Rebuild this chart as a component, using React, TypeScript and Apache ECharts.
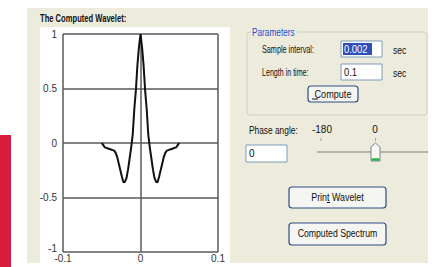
import React, { useEffect, useRef } from 'react';
import * as echarts from 'echarts';

// Wavelet samples (sample interval 0.002 s, length 0.1 s)
const timeSec = [
  -0.05, -0.048, -0.046, -0.044, -0.042, -0.04, -0.038, -0.036, -0.034, -0.032,
  -0.03, -0.028, -0.026, -0.024, -0.022, -0.02, -0.018, -0.016, -0.014, -0.012,
  -0.01, -0.008, -0.006, -0.004, -0.002, 0,
  0.002, 0.004, 0.006, 0.008, 0.01, 0.012, 0.014, 0.016, 0.018, 0.02,
  0.022, 0.024, 0.026, 0.028, 0.03, 0.032, 0.034, 0.036, 0.038, 0.04,
  0.042, 0.044, 0.046, 0.048, 0.05,
];
const amplitude = [
  0, -0.02, -0.04, -0.045, -0.05, -0.055, -0.06, -0.065, -0.07, -0.09,
  -0.13, -0.19, -0.25, -0.31, -0.36, -0.355, -0.32, -0.24, -0.14, -0.04,
  0.08, 0.31, 0.48, 0.71, 0.88, 1.0,
  0.88, 0.71, 0.48, 0.31, 0.08, -0.04, -0.14, -0.24, -0.32, -0.355,
  -0.36, -0.31, -0.25, -0.19, -0.13, -0.09, -0.07, -0.065, -0.06, -0.055,
  -0.05, -0.045, -0.04, -0.02, 0,
];

const chartTitle = 'The Computed Wavelet:';
const paramLabels = ['Sample interval:', 'Length in time:'];
const paramValues = ['0.002', '0.1'];
const unitLabel = 'sec';
const phaseLabel = 'Phase angle:';
const phaseTicks = ['-180', '0'];
const phaseValue = '0';
const buttonLabels = ['Compute', 'Print Wavelet', 'Computed Spectrum'];

const FONT = '"Liberation Sans", Arial, sans-serif';

function txt(text: string, x: number, y: number, sx: number, extra: any = {}) {
  const align = extra.align || 'left';
  return {
    type: 'text',
    x,
    y,
    scaleX: sx,
    z: 20,
    silent: true,
    style: {
      text,
      x: 0,
      y: 0,
      fill: extra.fill || '#111',
      font: `${extra.weight || 'normal'} ${extra.size || 10}px ${FONT}`,
      textAlign: align,
      align,
      textVerticalAlign: 'middle',
      verticalAlign: 'middle',
    },
  };
}

function button(x: number, y: number, w: number, h: number, label: string, sx: number, ul?: [number, number]) {
  const els: any[] = [
    {
      type: 'rect',
      z: 15,
      silent: true,
      shape: { x, y, width: w, height: h, r: 3 },
      style: { fill: '#F5F5F1', stroke: '#2F4C86', lineWidth: 1.2 },
    },
    txt(label, x + w / 2, y + h / 2, sx, { align: 'center' }),
  ];
  if (ul) {
    els.push({
      type: 'line',
      z: 20,
      silent: true,
      shape: { x1: ul[0], y1: y + h / 2 + 5, x2: ul[1], y2: y + h / 2 + 5 },
      style: { stroke: '#111', lineWidth: 1 },
    });
  }
  return els;
}

function textbox(x: number, y: number, w: number, h: number) {
  return {
    type: 'rect',
    z: 15,
    silent: true,
    shape: { x, y, width: w, height: h },
    style: { fill: '#FFFFFF', stroke: '#7F9DB9', lineWidth: 1 },
  };
}

export default function App() {
  const ref = useRef<HTMLDivElement>(null);

  useEffect(() => {
    document.body.style.margin = '0';
    if (!ref.current) return;
    const chart = echarts.init(ref.current, undefined, { renderer: 'svg' });

    const graphic: any[] = [
      // red side strip
      { type: 'rect', z: 0, silent: true, shape: { x: 0, y: 135, width: 11, height: 132 }, style: { fill: '#D71B3B' } },
      // dialog beige background
      { type: 'rect', z: 0, silent: true, shape: { x: 27, y: 8, width: 401, height: 255 }, style: { fill: '#ECEBDC' } },
      // white plot panel
      { type: 'rect', z: 1, silent: true, shape: { x: 40, y: 27, width: 190, height: 236 }, style: { fill: '#FFFFFF' } },
      txt(chartTitle, 40, 19, 0.76, { weight: 'bold', size: 10 }),
      // Parameters group box
      {
        type: 'rect', z: 10, silent: true,
        shape: { x: 247, y: 32, width: 180, height: 83, r: 3 },
        style: { fill: 'none', stroke: '#CFCFBF', lineWidth: 1 },
      },
      { type: 'rect', z: 11, silent: true, shape: { x: 251, y: 27, width: 46, height: 9 }, style: { fill: '#ECEBDC' } },
      txt('Parameters', 252, 32, 0.75, { fill: '#1F4FCF', size: 11 }),
      txt(paramLabels[0], 262, 49, 0.66, { size: 11 }),
      txt(paramLabels[1], 262, 72, 0.645, { size: 11 }),
      textbox(341, 41, 41, 16),
      { type: 'rect', z: 16, silent: true, shape: { x: 343, y: 43, width: 29, height: 12 }, style: { fill: '#2F4FB8' } },
      txt(paramValues[0], 344, 49.5, 0.9, { fill: '#FFFFFF', size: 10.5 }),
      textbox(341, 64, 41, 16),
      txt(paramValues[1], 344, 72, 0.9, { size: 10.5 }),
      txt(unitLabel, 393, 50, 0.78, { size: 11 }),
      txt(unitLabel, 393, 73, 0.78, { size: 11 }),
      ...button(308, 86, 50, 16, buttonLabels[0], 0.91, [312, 318]),
      // Phase angle
      txt(phaseLabel, 249, 130, 0.76, { size: 11 }),
      txt(phaseTicks[0], 312, 129, 0.95, { size: 10.5 }),
      txt(phaseTicks[1], 375, 129, 0.95, { align: 'center', size: 10.5 }),
      textbox(246, 145, 41, 17),
      txt(phaseValue, 249, 153.5, 0.95, { size: 10.5 }),
      // slider track
      { type: 'line', z: 12, silent: true, shape: { x1: 317, y1: 152, x2: 428, y2: 152 }, style: { stroke: '#B4B4AA', lineWidth: 2 } },
      { type: 'line', z: 12, silent: true, shape: { x1: 321, y1: 138, x2: 321, y2: 141 }, style: { stroke: '#A0A0A0', lineWidth: 1 } },
      { type: 'line', z: 12, silent: true, shape: { x1: 375.5, y1: 138, x2: 375.5, y2: 141 }, style: { stroke: '#A0A0A0', lineWidth: 1 } },
      {
        type: 'polygon', z: 13, silent: true,
        shape: { points: [[371, 147], [375.5, 143], [380, 147], [380, 161], [371, 161]] },
        style: { fill: '#F7F7F3', stroke: '#7A8799', lineWidth: 1 },
      },
      { type: 'line', z: 14, silent: true, shape: { x1: 371.5, y1: 159.5, x2: 379.5, y2: 159.5 }, style: { stroke: '#2FAE48', lineWidth: 2.5 } },
      ...button(289, 187, 97, 21, buttonLabels[1], 0.89, [327, 330]),
      ...button(289, 223, 97, 22, buttonLabels[2], 0.87),
    ];

    const gridLine = { show: true, lineStyle: { color: '#5A5A5A', width: 1.5 } };

    chart.setOption({
      animation: false,
      backgroundColor: '#FFFFFF',
      graphic,
      grid: { left: 63, right: 218, top: 34, bottom: 15, containLabel: false },
      xAxis: {
        type: 'value',
        z: 3,
        min: -0.1,
        max: 0.1,
        interval: 0.1,
        axisLine: { show: false },
        axisTick: { show: false },
        splitLine: gridLine,
        axisLabel: {
          margin: 1,
          color: '#333',
          fontSize: 10,
          fontFamily: FONT,
          formatter: (v: number) => (Math.abs(v) < 1e-9 ? '0' : String(Math.round(v * 10) / 10)),
        },
      },
      yAxis: {
        type: 'value',
        z: 3,
        min: -1,
        max: 1,
        interval: 0.5,
        axisLine: { show: false },
        axisTick: { show: false },
        splitLine: gridLine,
        axisLabel: {
          margin: 6,
          color: '#333',
          fontSize: 10,
          fontFamily: FONT,
          formatter: (v: number) => (v === -1 ? '{low|-1}' : String(v)),
          rich: {
            low: { fontSize: 10, fontFamily: FONT, color: '#333', padding: [0, 0, 7, 0] },
          },
        },
      },
      series: [
        {
          type: 'line',
          z: 4,
          data: timeSec.map((t, i) => [t, amplitude[i]]),
          symbol: 'none',
          lineStyle: { color: '#111111', width: 2 },
        },
      ],
    });

    return () => chart.dispose();
  }, []);

  return <div ref={ref} style={{ width: 436, height: 267 }} />;
}
